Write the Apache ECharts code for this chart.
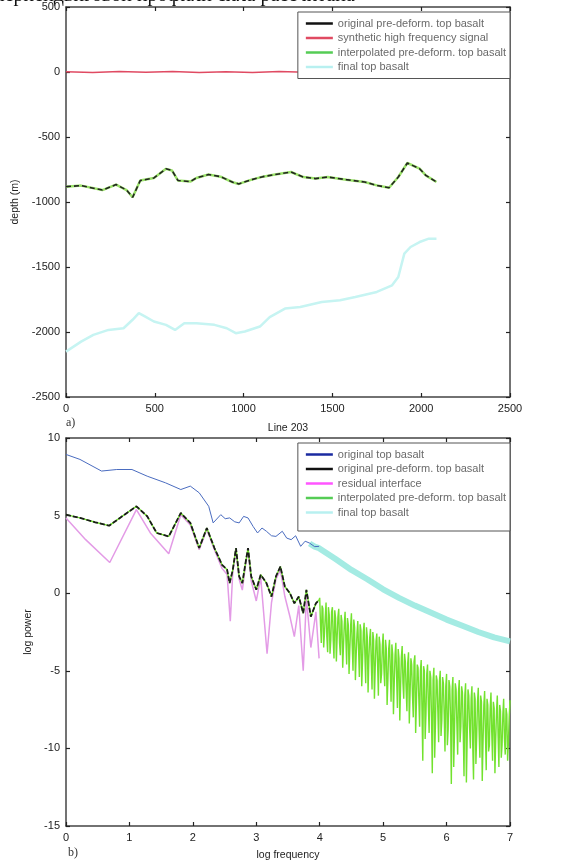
<!DOCTYPE html>
<html><head><meta charset="utf-8">
<script src="https://cdn.jsdelivr.net/npm/echarts@6/dist/echarts.min.js"></script>
<style>html,body{margin:0;padding:0;background:#fff}#c{width:576px;height:862px}</style>
</head><body><div id="c"></div>
<script>
// ---------- panel a) depth profiles along Line 203 ----------
const preX = [0, 85, 205, 282, 341, 375, 418, 495, 563, 597, 631, 700, 734, 802, 870, 939, 973, 1041, 1109, 1177, 1267, 1336, 1405, 1474, 1578, 1681, 1750, 1819, 1871, 1922, 1991, 2026, 2086];
const preY = [-882, -874, -908, -866, -908, -964, -835, -815, -745, -758, -835, -843, -815, -789, -805, -848, -861, -830, -805, -789, -769, -808, -820, -808, -828, -846, -872, -890, -808, -700, -744, -795, -846];
const synX = [0, 150, 300, 450, 600, 750, 900, 1050, 1200, 1350, 1500, 1650, 1800, 1950, 2086];
const synY = [2, -3, 4, -2, 3, -4, 2, -3, 3, -2, 4, -3, 2, -4, 1];
const finX = [0, 85, 154, 239, 324, 375, 410, 444, 495, 563, 614, 666, 734, 836, 905, 956, 1007, 1092, 1147, 1233, 1319, 1440, 1543, 1629, 1750, 1836, 1871, 1905, 1940, 1991, 2043, 2086];
const finY = [-2151, -2074, -2022, -1984, -1971, -1906, -1855, -1880, -1919, -1945, -1984, -1932, -1932, -1945, -1971, -2009, -1996, -1958, -1885, -1820, -1808, -1769, -1756, -1731, -1692, -1641, -1577, -1397, -1346, -1308, -1282, -1282];

// ---------- panel b) log power spectra ----------
const blueX = [0, 0.22, 0.56, 0.80, 1.04, 1.28, 1.57, 1.81, 1.96, 2.10, 2.25, 2.32, 2.44, 2.51, 2.58, 2.66, 2.73, 2.80, 2.87, 2.95, 3.02, 3.09, 3.16, 3.24, 3.31, 3.41, 3.48, 3.55, 3.62, 3.70, 3.77, 3.84, 3.92, 3.99];
const blueY = [8.94, 8.62, 7.87, 7.97, 7.97, 7.54, 7.11, 6.68, 6.90, 6.47, 5.60, 4.53, 5.06, 4.80, 4.85, 4.60, 4.53, 4.95, 4.85, 4.30, 3.88, 4.20, 3.99, 3.70, 3.66, 3.99, 3.55, 3.45, 3.70, 3.02, 3.35, 3.23, 3.00, 3.02];
const preSpecX = [0, 0.22, 0.46, 0.68, 0.85, 1.11, 1.28, 1.43, 1.62, 1.81, 1.96, 2.10, 2.22, 2.34, 2.46, 2.54, 2.58, 2.63, 2.68, 2.73, 2.78, 2.83, 2.87, 2.92, 3.00, 3.07, 3.16, 3.24, 3.31, 3.38, 3.45, 3.53, 3.60, 3.67, 3.74, 3.79, 3.86, 3.94, 3.99];
const preSpecY = [5.06, 4.85, 4.57, 4.35, 4.85, 5.60, 4.96, 3.88, 3.66, 5.17, 4.53, 2.91, 4.20, 2.91, 1.83, 1.51, 0.65, 1.51, 2.91, 1.08, 0.65, 1.94, 2.91, 1.08, 0.22, 1.19, 0.65, -0.22, 1.08, 1.72, 0.43, 0.00, -0.65, -0.22, -1.29, 0.22, -1.51, -0.65, -0.43];
const resX = [0, 0.31, 0.69, 1.11, 1.33, 1.62, 1.81, 1.96, 2.10, 2.22, 2.34, 2.46, 2.54, 2.59, 2.63, 2.68, 2.73, 2.78, 2.83, 2.87, 2.92, 3.00, 3.07, 3.17, 3.24, 3.31, 3.38, 3.45, 3.53, 3.60, 3.67, 3.74, 3.79, 3.86, 3.94, 3.99];
const resY = [4.85, 3.45, 1.98, 5.39, 3.88, 2.54, 5.06, 4.40, 2.80, 4.10, 2.80, 1.60, 1.20, -1.80, 1.40, 2.80, 0.90, 0.20, 1.80, 2.80, 0.80, -0.50, 1.00, -3.90, -0.60, 0.90, 1.50, -0.20, -1.50, -2.80, -0.80, -5.00, -0.30, -3.50, -1.20, -4.20];
const hfX = [4.000,4.025,4.050,4.075,4.100,4.125,4.150,4.175,4.200,4.225,4.250,4.275,4.300,4.325,4.350,4.375,4.400,4.425,4.450,4.475,4.500,4.525,4.550,4.575,4.600,4.625,4.650,4.675,4.700,4.725,4.750,4.775,4.800,4.825,4.850,4.875,4.900,4.925,4.950,4.975,5.000,5.025,5.050,5.075,5.100,5.125,5.150,5.175,5.200,5.225,5.250,5.275,5.300,5.325,5.350,5.375,5.400,5.425,5.450,5.475,5.500,5.525,5.550,5.575,5.600,5.625,5.650,5.675,5.700,5.725,5.750,5.775,5.800,5.825,5.850,5.875,5.900,5.925,5.950,5.975,6.000,6.025,6.050,6.075,6.100,6.125,6.150,6.175,6.200,6.225,6.250,6.275,6.300,6.325,6.350,6.375,6.400,6.425,6.450,6.475,6.500,6.525,6.550,6.575,6.600,6.625,6.650,6.675,6.700,6.725,6.750,6.775,6.800,6.825,6.850,6.875,6.900,6.925,6.950,6.975,7.000];
const hfY = [-0.3,-3.2,-1.0,-2.6,-0.6,-3.8,-1.4,-3.0,-0.9,-4.2,-1.6,-2.8,-1.0,-4.0,-1.8,-3.4,-1.2,-4.6,-2.0,-3.6,-1.3,-5.0,-2.2,-4.0,-1.8,-5.4,-2.4,-4.4,-1.9,-5.8,-2.8,-4.2,-2.3,-6.2,-3.0,-4.8,-2.6,-6.6,-3.3,-5.2,-2.6,-6.0,-3.6,-5.6,-3.0,-7.0,-3.9,-5.8,-3.2,-7.4,-4.2,-6.0,-3.4,-6.8,-4.4,-7.6,-3.8,-6.4,-4.6,-8.0,-4.0,-7.0,-4.8,-8.6,-4.3,-10.8,-5.0,-7.8,-4.6,-9.0,-5.4,-11.6,-4.8,-8.4,-5.6,-9.6,-5.0,-8.2,-5.8,-10.2,-5.2,-8.8,-6.0,-12.3,-5.4,-9.0,-6.2,-10.4,-5.6,-8.6,-6.4,-11.8,-5.8,-9.4,-6.6,-10.0,-6.0,-12.0,-6.8,-9.2,-6.1,-10.6,-7.0,-9.6,-6.3,-11.4,-7.2,-9.8,-6.4,-10.8,-7.4,-9.4,-6.6,-11.2,-7.6,-9.8,-6.8,-10.4,-7.8,-9.6,-6.9];
const hfX2 = [4.0125,4.0375,4.0625,4.0875,4.1125,4.1375,4.1625,4.1875,4.2125,4.2375,4.2625,4.2875,4.3125,4.3375,4.3625,4.3875,4.4125,4.4375,4.4625,4.4875,4.5125,4.5375,4.5625,4.5875,4.6125,4.6375,4.6625,4.6875,4.7125,4.7375,4.7625,4.7875,4.8125,4.8375,4.8625,4.8875,4.9125,4.9375,4.9625,4.9875,5.0125,5.0375,5.0625,5.0875,5.1125,5.1375,5.1625,5.1875,5.2125,5.2375,5.2625,5.2875,5.3125,5.3375,5.3625,5.3875,5.4125,5.4375,5.4625,5.4875,5.5125,5.5375,5.5625,5.5875,5.6125,5.6375,5.6625,5.6875,5.7125,5.7375,5.7625,5.7875,5.8125,5.8375,5.8625,5.8875,5.9125,5.9375,5.9625,5.9875,6.0125,6.0375,6.0625,6.0875,6.1125,6.1375,6.1625,6.1875,6.2125,6.2375,6.2625,6.2875,6.3125,6.3375,6.3625,6.3875,6.4125,6.4375,6.4625,6.4875,6.5125,6.5375,6.5625,6.5875,6.6125,6.6375,6.6625,6.6875,6.7125,6.7375,6.7625,6.7875,6.8125,6.8375,6.8625,6.8875,6.9125,6.9375,6.9625,6.9875];
const hfY2 = [-2.0,-0.8,-3.5,-1.5,-2.8,-0.9,-3.9,-1.2,-3.0,-1.1,-4.4,-1.5,-3.2,-1.4,-4.8,-2.0,-3.0,-1.6,-5.2,-2.1,-3.4,-1.7,-5.6,-2.6,-3.6,-2.0,-6.0,-2.5,-4.0,-2.2,-6.4,-2.9,-4.4,-2.5,-6.8,-3.1,-4.6,-2.8,-5.8,-3.4,-4.9,-3.0,-7.2,-3.6,-5.0,-3.3,-7.8,-4.0,-5.4,-3.6,-8.2,-4.1,-5.8,-3.9,-6.2,-4.5,-8.4,-4.2,-6.6,-4.4,-9.0,-4.6,-6.8,-5.0,-7.6,-4.7,-9.4,-5.2,-7.2,-5.0,-8.0,-5.6,-10.6,-5.3,-7.6,-5.7,-9.2,-5.4,-7.8,-6.0,-9.8,-5.6,-8.0,-6.2,-11.2,-5.8,-8.4,-6.4,-9.6,-6.0,-8.8,-6.6,-12.2,-6.2,-8.6,-6.8,-9.8,-6.4,-11.0,-7.0,-8.8,-6.6,-12.1,-7.2,-9.0,-6.8,-10.2,-7.4,-9.0,-7.0,-11.6,-7.6,-9.2,-7.2,-10.6,-7.8,-9.4,-7.4,-10.8,-8.0];
const finSpecX = [3.84, 3.92, 3.99, 4.25, 4.5, 4.75, 5.0, 5.25, 5.5, 5.75, 6.0, 6.25, 6.5, 6.75, 7.0];
const finSpecY = [3.2, 3.0, 2.9, 2.2, 1.5, 0.9, 0.25, -0.3, -0.8, -1.25, -1.7, -2.1, -2.5, -2.85, -3.1];

const topXTicks = [0, 500, 1000, 1500, 2000, 2500];
const topYTicks = [500, 0, -500, -1000, -1500, -2000, -2500];
const botXTicks = [0, 1, 2, 3, 4, 5, 6, 7];
const botYTicks = [10, 5, 0, -5, -10, -15];

const zip = (xs, ys) => xs.map((x, i) => [x, ys[i]]);
const hfPts = zip(hfX, hfY).concat(zip(hfX2, hfY2)).sort((a, b) => a[0] - b[0]);

const FONT = 'Liberation Sans';
const axisCol = '#444';
const lbl = { color: '#222', fontSize: 11, fontFamily: FONT, margin: 6, formatter: v => String(v) };
function baseAxis(extra) {
  return Object.assign({
    axisLine: { show: true, onZero: false, lineStyle: { color: axisCol, width: 1.5 } },
    axisTick: { show: true, inside: true, length: 4, lineStyle: { color: '#222', width: 1.2 } },
    splitLine: { show: false },
    axisLabel: lbl,
    nameTextStyle: { color: '#222', fontSize: 10.5, fontFamily: FONT }
  }, extra);
}
function mirrorAxis(extra) {
  return Object.assign(baseAxis(extra), { axisLabel: { show: false }, name: '' });
}
const legendText = { color: '#6a6a6a', fontSize: 11, fontFamily: FONT };

const chart = echarts.init(document.getElementById('c'), null, { renderer: 'canvas' });
const option = {
  animation: false,
  backgroundColor: '#fff',
  grid: [
    { left: 66, right: 66, top: 7, bottom: 465 },
    { left: 66, right: 66, top: 438, bottom: 36 }
  ],
  xAxis: [
    baseAxis({ gridIndex: 0, type: 'value', min: topXTicks[0], max: topXTicks[topXTicks.length - 1], interval: 500, position: 'bottom',
      name: 'Line 203', nameLocation: 'middle', nameGap: 26 }),
    mirrorAxis({ gridIndex: 0, type: 'value', min: 0, max: 2500, interval: 500, position: 'top' }),
    baseAxis({ gridIndex: 1, type: 'value', min: botXTicks[0], max: botXTicks[botXTicks.length - 1], interval: 1, position: 'bottom',
      name: 'log frequency', nameLocation: 'middle', nameGap: 24 }),
    mirrorAxis({ gridIndex: 1, type: 'value', min: 0, max: 7, interval: 1, position: 'top' })
  ],
  yAxis: [
    baseAxis({ gridIndex: 0, type: 'value', min: topYTicks[topYTicks.length - 1], max: topYTicks[0], interval: 500, position: 'left',
      name: 'depth (m)', nameLocation: 'middle', nameGap: 44, nameRotate: 90 }),
    mirrorAxis({ gridIndex: 0, type: 'value', min: -2500, max: 500, interval: 500, position: 'right' }),
    baseAxis({ gridIndex: 1, type: 'value', min: botYTicks[botYTicks.length - 1], max: botYTicks[0], interval: 5, position: 'left',
      name: 'log power', nameLocation: 'middle', nameGap: 25, nameRotate: 90 }),
    mirrorAxis({ gridIndex: 1, type: 'value', min: -15, max: 10, interval: 5, position: 'right' })
  ],
  legend: [
    {
      right: 66, top: 12, orient: 'vertical', icon: 'rect', itemWidth: 27, itemHeight: 2.5, itemGap: 3.5, itemTextGap: 5,
      padding: [6, 4, 6, 8], backgroundColor: '#fff', borderColor: '#555', borderWidth: 1,
      textStyle: Object.assign({ lineHeight: 11 }, legendText),
      data: ['original pre-deform. top basalt', 'synthetic high frequency signal', 'interpolated pre-deform. top basalt', 'final top basalt']
    },
    {
      right: 66, top: 443, orient: 'vertical', icon: 'rect', itemWidth: 27, itemHeight: 2.5, itemGap: 3.5, itemTextGap: 5,
      padding: [6, 4, 13, 8], backgroundColor: '#fff', borderColor: '#555', borderWidth: 1,
      textStyle: Object.assign({ lineHeight: 10 }, legendText),
      data: ['original top basalt', 'original pre-deform. top basalt', 'residual interface', 'interpolated pre-deform. top basalt', 'final top basalt']
    }
  ],
  graphic: [
    { type: 'text', x: -6, y: 6, style: { text: 'перпендвиговой профили сила рассчитана', font: '20px "Liberation Serif"', fill: '#111', verticalAlign: 'bottom' } },
    { type: 'text', x: 66, y: 423, style: { text: 'a)', font: '12px "Liberation Serif"', fill: '#333', verticalAlign: 'middle' } },
    { type: 'text', x: 68, y: 853, style: { text: 'b)', font: '12px "Liberation Serif"', fill: '#333', verticalAlign: 'middle' } }
  ],
  series: [
    { name: 'final top basalt', type: 'line', xAxisIndex: 0, yAxisIndex: 0, showSymbol: false, data: zip(finX, finY),
      itemStyle: { color: '#b8f0f0' }, lineStyle: { color: '#c6f4f2', width: 2.5 } },
    { name: 'synthetic high frequency signal', type: 'line', xAxisIndex: 0, yAxisIndex: 0, showSymbol: false, data: zip(synX, synY),
      itemStyle: { color: '#e04a62' }, lineStyle: { color: '#e04a62', width: 1.5 } },
    { name: 'interpolated pre-deform. top basalt', type: 'line', xAxisIndex: 0, yAxisIndex: 0, showSymbol: false, data: zip(preX, preY),
      itemStyle: { color: '#55cc55' }, lineStyle: { color: '#9be36a', width: 2.5 } },
    { name: 'original pre-deform. top basalt', type: 'line', xAxisIndex: 0, yAxisIndex: 0, showSymbol: false, data: zip(preX, preY),
      itemStyle: { color: '#111' }, lineStyle: { color: '#222', width: 1.6, type: [5, 3] } },

    { name: 'final top basalt', type: 'line', xAxisIndex: 2, yAxisIndex: 2, showSymbol: false, data: zip(finSpecX, finSpecY),
      itemStyle: { color: '#b8f0f0' }, lineStyle: { color: '#a4ebe3', width: 6 } },
    { name: 'residual interface', type: 'line', xAxisIndex: 2, yAxisIndex: 2, showSymbol: false, data: zip(resX, resY),
      itemStyle: { color: '#ff55ff' }, lineStyle: { color: '#e39be6', width: 1.5 } },
    { name: 'interpolated pre-deform. top basalt', type: 'line', xAxisIndex: 2, yAxisIndex: 2, showSymbol: false, data: zip(preSpecX, preSpecY).concat(hfPts),
      itemStyle: { color: '#55cc55' }, lineStyle: { color: '#72e22e', width: 1.4 } },
    { name: 'original pre-deform. top basalt', type: 'line', xAxisIndex: 2, yAxisIndex: 2, showSymbol: false, data: zip(preSpecX, preSpecY),
      itemStyle: { color: '#111' }, lineStyle: { color: '#1a1a1a', width: 1.8, type: [5, 2] } },
    { name: 'original top basalt', type: 'line', xAxisIndex: 2, yAxisIndex: 2, showSymbol: false, data: zip(blueX, blueY),
      itemStyle: { color: '#1a2aa0' }, lineStyle: { color: '#4a6cc0', width: 1 } }
  ]
};
chart.setOption(option);
</script>
</body></html>
